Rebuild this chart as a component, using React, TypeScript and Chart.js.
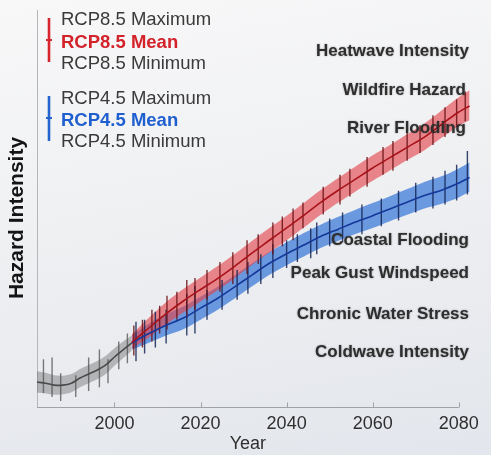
import React, { useEffect, useRef } from "react";
import { Chart, registerables } from "chart.js";

Chart.register(...registerables);

// ---------- data ----------
const xTickValues = [2000, 2020, 2040, 2060, 2080];
const xMin = 1982;
const xMax = 2084;
const axisEnd = 2080;

const histYears = [1982, 1984, 1986, 1988, 1990, 1992, 1994, 1996, 1998, 2000, 2002, 2004];
const histMean = [6.3, 6.0, 5.5, 5.5, 6.0, 7.3, 8.3, 9.3, 10.6, 12.6, 14.4, 16.1];
const histMax = [9.0, 8.6, 8.0, 7.9, 8.3, 9.6, 10.6, 11.6, 12.9, 14.8, 16.5, 18.0];
const histMin = [3.6, 3.4, 3.1, 3.2, 3.7, 5.0, 6.0, 7.0, 8.3, 10.4, 12.3, 14.2];

const projYears = [2004, 2008, 2012, 2016, 2020, 2024, 2028, 2032, 2036, 2040, 2044, 2048, 2052, 2056, 2060, 2064, 2068, 2072, 2076, 2080, 2082.5];
const rcp85Mean = [16.3, 19.9, 23.5, 26.7, 29.6, 32.4, 35.5, 38.8, 42.0, 45.1, 48.3, 51.6, 54.6, 57.4, 60.2, 62.8, 65.4, 68.0, 71.2, 74.3, 75.8];
const rcp85Max = [18.3, 22.5, 26.4, 29.7, 32.6, 35.5, 38.6, 41.9, 45.1, 48.2, 51.4, 54.7, 57.7, 60.6, 63.4, 66.0, 68.7, 71.4, 74.7, 78.0, 79.8];
const rcp85Min = [14.6, 17.5, 20.8, 23.8, 26.6, 29.4, 32.5, 35.8, 38.9, 42.0, 45.2, 48.5, 51.5, 54.3, 57.0, 59.6, 62.2, 64.7, 67.8, 70.8, 72.2];
const rcp45Mean = [16.1, 18.5, 20.6, 22.4, 24.9, 27.4, 30.3, 33.3, 36.2, 38.6, 40.8, 43.0, 44.8, 46.6, 48.2, 49.9, 51.6, 53.3, 54.6, 56.4, 57.8];
const rcp45Max = [18.0, 21.0, 23.4, 25.3, 27.8, 30.3, 33.2, 36.2, 39.1, 41.5, 43.8, 46.0, 47.9, 49.7, 51.4, 53.1, 54.9, 56.7, 58.1, 60.1, 61.6];
const rcp45Min = [14.4, 16.2, 18.0, 19.6, 22.0, 24.5, 27.4, 30.4, 33.3, 35.7, 37.9, 40.1, 41.9, 43.6, 45.1, 46.8, 48.4, 50.0, 51.2, 52.8, 54.2];

const histBarYears = [1983.5, 1985.5, 1987.5, 1991, 1994, 1996.5, 1998.5, 2001, 2003];
const histBarLo = [3.5, 2.5, 1.5, 2.5, 4.0, 5.0, 6.0, 9.5, 11.0];
const histBarHi = [12.0, 12.5, 8.5, 8.0, 12.5, 14.5, 12.0, 16.5, 18.5];

const rcp85BarYears = [2004.5, 2006.5, 2008.7, 2010.5, 2012.2, 2014.5, 2016.8, 2018.7, 2021.5, 2024.5, 2027.5, 2030.8, 2033.4, 2036.8, 2039, 2041.5, 2043.8, 2048.5, 2052.4, 2054.7, 2058.7, 2062.4, 2064.7, 2068, 2071, 2074, 2076.8, 2079.5, 2081.5];
const rcp85BarLo = [13.0, 15.0, 16.5, 18.5, 19.5, 22.0, 22.5, 24.5, 27.0, 29.0, 31.0, 33.5, 36.0, 38.5, 40.5, 42.0, 45.0, 48.5, 51.0, 53.0, 55.5, 58.5, 59.5, 62.0, 64.0, 66.0, 68.0, 70.5, 72.0];
const rcp85BarHi = [20.5, 22.0, 24.5, 25.5, 28.0, 29.0, 32.0, 32.5, 34.5, 36.5, 39.0, 42.0, 43.5, 46.5, 48.0, 50.0, 51.5, 55.5, 58.5, 60.0, 63.0, 65.5, 67.0, 69.0, 71.0, 73.5, 75.5, 77.5, 79.5];

const rcp45BarYears = [2005, 2007, 2009.5, 2012, 2016.8, 2018.7, 2021.5, 2025, 2028.5, 2031, 2034, 2036.8, 2040, 2042.5, 2045.6, 2047, 2050, 2053, 2057.5, 2062, 2066, 2070, 2074, 2076.8, 2079.5, 2082];
const rcp45BarLo = [11.5, 13.5, 15.0, 16.0, 18.0, 18.5, 22.0, 24.5, 27.0, 28.5, 31.0, 32.5, 35.0, 36.5, 37.5, 38.5, 40.5, 41.5, 43.5, 45.5, 47.0, 49.0, 50.0, 51.0, 52.0, 53.5];
const rcp45BarHi = [21.5, 22.0, 24.0, 24.5, 28.5, 30.5, 29.5, 32.0, 34.5, 36.5, 38.5, 41.0, 42.0, 43.5, 45.0, 46.5, 47.5, 49.0, 51.0, 52.5, 54.5, 56.5, 58.0, 59.5, 61.0, 64.5];

const legend85 = ["RCP8.5 Maximum", "RCP8.5 Mean", "RCP8.5 Minimum"];
const legend45 = ["RCP4.5 Maximum", "RCP4.5 Mean", "RCP4.5 Minimum"];
const hazardTop = ["Heatwave Intensity", "Wildfire Hazard", "River Flooding"];
const hazardBottom = ["Coastal Flooding", "Peak Gust Windspeed", "Chronic Water Stress", "Coldwave Intensity"];
const xTitle = "Year";
const yTitle = "Hazard Intensity";

// ---------- colours ----------
const RED_BAND = "rgba(228,66,72,0.62)";
const RED_LINE = "#a8121a";
const RED_BAR = "rgba(105,16,20,0.85)";
const BLUE_BAND = "rgba(38,108,214,0.66)";
const BLUE_LINE = "#15389a";
const BLUE_BAR = "rgba(20,36,85,0.85)";
const GRAY_BAND = "rgba(105,105,105,0.42)";
const GRAY_LINE = "#4a4a4a";
const GRAY_BAR = "rgba(80,80,80,0.75)";

const pts = (xs: number[], ys: number[]) => xs.map((x, i) => ({ x, y: ys[i] }));
const barPts = (xs: number[], lo: number[], hi: number[]) => {
  const out: { x: number; y: number | null }[] = [];
  xs.forEach((x, i) => {
    out.push({ x, y: lo[i] });
    out.push({ x, y: hi[i] });
    out.push({ x, y: null });
  });
  return out;
};

const FONT = "'Liberation Sans', Arial, Helvetica, sans-serif";

const overlayPlugin = {
  id: "overlay",
  afterDraw(chart: any) {
    const ctx = chart.ctx as CanvasRenderingContext2D;
    const xs = chart.scales.x;
    const area = chart.chartArea;
    ctx.save();
    // x axis baseline and inner ticks
    ctx.strokeStyle = "#a0a2a6";
    ctx.lineWidth = 1;
    ctx.beginPath();
    const yb = Math.round(area.bottom) + 0.5;
    const xEnd = xs.getPixelForValue(axisEnd);
    ctx.moveTo(area.left, yb);
    ctx.lineTo(xEnd, yb);
    for (const t of xTickValues) {
      const px = Math.round(xs.getPixelForValue(t)) + 0.5;
      ctx.moveTo(px, yb - 5);
      ctx.lineTo(px, yb);
    }
    ctx.stroke();

    // x title (centred under the drawn axis)
    ctx.font = `18px ${FONT}`;
    ctx.fillStyle = "#2f2f2f";
    ctx.textAlign = "center";
    ctx.textBaseline = "middle";
    ctx.fillText(xTitle, (area.left + xEnd) / 2, 444);

    // y title
    ctx.save();
    ctx.translate(17, 218);
    ctx.rotate(-Math.PI / 2);
    ctx.font = `bold 21px ${FONT}`;
    ctx.fillStyle = "#151515";
    ctx.textAlign = "center";
    ctx.textBaseline = "middle";
    ctx.fillText(yTitle, 0, 0);
    ctx.restore();

    // legend
    const drawIcon = (x: number, y1: number, y2: number, yc: number, color: string) => {
      ctx.strokeStyle = color;
      ctx.lineWidth = 2.6;
      ctx.beginPath();
      ctx.moveTo(x, y1);
      ctx.lineTo(x, y2);
      ctx.stroke();
      ctx.lineWidth = 2;
      ctx.beginPath();
      ctx.moveTo(x - 3, yc);
      ctx.lineTo(x + 3, yc);
      ctx.stroke();
    };
    drawIcon(49, 18, 62, 40, "#d8252c");
    drawIcon(49, 96, 141, 118, "#2464d0");
    ctx.textAlign = "left";
    ctx.textBaseline = "middle";
    const rows85 = [20, 43, 64];
    const rows45 = [99, 121, 142];
    legend85.forEach((t, i) => {
      ctx.font = i === 1 ? `bold 18.5px ${FONT}` : `18.5px ${FONT}`;
      ctx.fillStyle = i === 1 ? "#d3222a" : "#3a3a3a";
      ctx.fillText(t, 61, rows85[i]);
    });
    legend45.forEach((t, i) => {
      ctx.font = i === 1 ? `bold 18.5px ${FONT}` : `18.5px ${FONT}`;
      ctx.fillStyle = i === 1 ? "#1f5fcf" : "#3a3a3a";
      ctx.fillText(t, 61, rows45[i]);
    });

    // hazard labels
    ctx.font = `bold 17px ${FONT}`;
    ctx.textAlign = "right";
    ctx.fillStyle = "#2e2e2e";
    ctx.shadowColor = "rgba(0,0,0,0.35)";
    ctx.shadowBlur = 2;
    const topY = [51, 90, 128];
    const topX = [469, 466, 466];
    hazardTop.forEach((t, i) => ctx.fillText(t, topX[i], topY[i]));
    const botY = [240, 273, 314, 352];
    hazardBottom.forEach((t, i) => ctx.fillText(t, 469, botY[i]));
    ctx.restore();
  },
};

export default function App() {
  const ref = useRef<HTMLCanvasElement | null>(null);
  useEffect(() => {
    if (!ref.current) return;
    const line = (data: any, extra: any) => ({
      type: "line",
      data,
      pointRadius: 0,
      pointHoverRadius: 0,
      tension: 0.3,
      clip: false,
      ...extra,
    });
    const chart = new Chart(ref.current, {
      type: "line",
      data: {
        datasets: [
          line(pts(projYears, rcp85Mean), { borderColor: RED_LINE, borderWidth: 1.6, fill: false, order: 0 }),
          line(pts(projYears, rcp45Mean), { borderColor: BLUE_LINE, borderWidth: 1.6, fill: false, order: 1 }),
          line(pts(histYears, histMean), { borderColor: GRAY_LINE, borderWidth: 1.6, fill: false, order: 2 }),
          line(barPts(rcp85BarYears, rcp85BarLo, rcp85BarHi), { borderColor: RED_BAR, borderWidth: 1.4, tension: 0, spanGaps: false, fill: false, order: 3 }),
          line(barPts(rcp45BarYears, rcp45BarLo, rcp45BarHi), { borderColor: BLUE_BAR, borderWidth: 1.4, tension: 0, spanGaps: false, fill: false, order: 4 }),
          line(barPts(histBarYears, histBarLo, histBarHi), { borderColor: GRAY_BAR, borderWidth: 1.4, tension: 0, spanGaps: false, fill: false, order: 5 }),
          line(pts(projYears, rcp85Max), { borderWidth: 0, borderColor: "rgba(0,0,0,0)", backgroundColor: RED_BAND, fill: 7, order: 6 }),
          line(pts(projYears, rcp85Min), { borderWidth: 0, borderColor: "rgba(0,0,0,0)", fill: false, order: 7 }),
          line(pts(projYears, rcp45Max), { borderWidth: 0, borderColor: "rgba(0,0,0,0)", backgroundColor: BLUE_BAND, fill: 9, order: 8 }),
          line(pts(projYears, rcp45Min), { borderWidth: 0, borderColor: "rgba(0,0,0,0)", fill: false, order: 9 }),
          line(pts(histYears, histMax), { borderWidth: 0, borderColor: "rgba(0,0,0,0)", backgroundColor: GRAY_BAND, fill: 11, order: 10 }),
          line(pts(histYears, histMin), { borderWidth: 0, borderColor: "rgba(0,0,0,0)", fill: false, order: 11 }),
        ] as any,
      },
      options: {
        responsive: false,
        animation: false,
        events: [],
        layout: { padding: { left: 0, right: 15, top: 10, bottom: 0 } },
        plugins: {
          legend: { display: false },
          tooltip: { enabled: false },
          filler: { propagate: false },
        },
        scales: {
          x: {
            type: "linear",
            min: xMin,
            max: xMax,
            border: { display: false },
            grid: { display: false, drawTicks: false },
            afterBuildTicks: (s: any) => {
              s.ticks = xTickValues.map((v) => ({ value: v }));
            },
            afterFit: (s: any) => {
              s.height = 48;
            },
            ticks: {
              padding: 6,
              color: "#2f2f2f",
              font: { family: FONT, size: 18 },
              callback: (v: any) => String(v),
              maxRotation: 0,
              autoSkip: false,
            },
            title: { display: false },
          },
          y: {
            type: "linear",
            min: 0,
            max: 100,
            grid: { display: false, drawTicks: false },
            border: { display: true, color: "#b4b6ba", width: 1 },
            ticks: { display: false },
            afterFit: (s: any) => {
              s.width = 37;
            },
          },
        },
      },
      plugins: [overlayPlugin],
    } as any);
    return () => chart.destroy();
  }, []);

  return (
    <div
      style={{
        position: "fixed",
        left: 0,
        top: 0,
        width: 491,
        height: 455,
        background: "linear-gradient(170deg, #f8f8f9 0%, #eff0f2 45%, #e3e6ec 100%)",
      }}
    >
      <canvas ref={ref} width={491} height={455} style={{ display: "block", width: 491, height: 455 }} />
    </div>
  );
}
